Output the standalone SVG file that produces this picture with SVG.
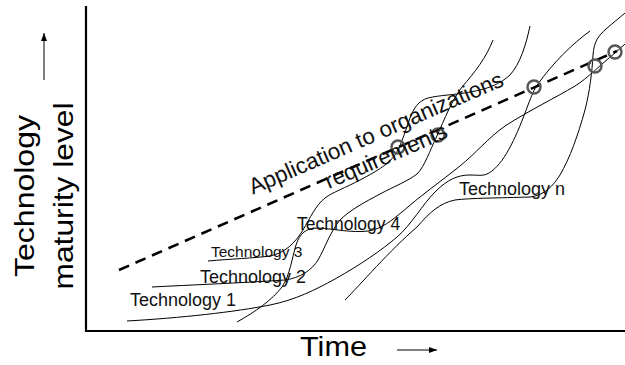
<svg xmlns="http://www.w3.org/2000/svg" width="625" height="365" viewBox="0 0 625 365">
<style>
.axis{stroke:#000;stroke-width:2.2;fill:none}
.curve{stroke:#000;stroke-width:1;fill:none}
.dash{stroke:#000;stroke-width:2.6;fill:none;stroke-dasharray:11 7}
.ring{stroke:#555;stroke-width:2.4;fill:none}
.big{font-family:"Liberation Sans",Arial,sans-serif;font-size:28px;fill:#000}
.lbl{font-family:"Liberation Sans",Arial,sans-serif;font-size:18px;fill:#111}
.app{font-family:"Liberation Sans",Arial,sans-serif;font-size:22.5px;fill:#111}
</style>
<defs>
<marker id="ah" viewBox="0 0 8 6" refX="8" refY="3" markerWidth="8" markerHeight="6" markerUnits="userSpaceOnUse" orient="auto">
<path d="M0,0 L8,3 L0,6 z" fill="#000"/>
</marker>
</defs>
<g id="axes">
<path class="axis" d="M86,6 L86,331 L625,331"/>
</g>
<g id="y-label">
<text class="big" transform="translate(34,196) rotate(-90)" text-anchor="middle" textLength="162" lengthAdjust="spacingAndGlyphs">Technology</text>
<text class="big" transform="translate(73,196) rotate(-90)" text-anchor="middle" textLength="187" lengthAdjust="spacingAndGlyphs">maturity level</text>
<line x1="44" y1="80" x2="44" y2="33" stroke="#000" stroke-width="1" marker-end="url(#ah)"/>
</g>
<g id="x-label">
<text class="big" x="300" y="356" textLength="67" lengthAdjust="spacingAndGlyphs">Time</text>
<line x1="397" y1="350" x2="437" y2="350" stroke="#000" stroke-width="1" marker-end="url(#ah)"/>
</g>
<g id="connectors">
<path id="tech1" class="curve" d="M127,321 C180,318 235,312 270,305 C295,300 315,290 335,279 C360,265 382,250 397,237 C412,224 422,205 435,192 C448,179 458,175 470,175 C480,175 484,177 492,171 C506,160 517,135 528,105 C532,95 534,89 538,84 C552,64 572,44 590,31"/>
<path id="tech2" class="curve" d="M152,287 C190,285 240,283 285,280 C300,278 312,270 318,260 C325,248 330,232 340,220 C350,210 365,202 380,194 C395,186 408,181 417,174 C425,166 430,150 436,138 C445,118 452,100 462,87 C475,72 486,58 493,40"/>
<path id="tech3" class="curve" d="M208,261 C230,259 255,258 270,256 C285,253 295,243 303,230 C310,218 316,205 325,198 C333,192 345,188 360,180 C375,172 388,165 395,155 C400,148 404,135 410,118 C414,108 418,101 428,98 C440,95 455,95 470,92 C488,89 500,84 510,75 C520,64 526,45 530,26"/>
<path id="tech4" class="curve" d="M237,322 C255,312 272,300 282,287 C290,275 292,258 296,245 C300,233 306,228 318,228 C335,229 352,233 368,231 C382,229 392,220 402,212 C420,196 440,182 460,166 C475,154 488,138 505,126 C530,110 555,98 575,86 C588,78 600,65 615,53 L625,44"/>
<path id="techn" class="curve" d="M345,300 C360,285 390,250 417,227 C430,212 440,203 455,200 C470,198 500,198 530,197 C545,195 553,186 560,175 C570,158 578,135 585,110 C590,90 592,72 593,55 C594,42 598,36 606,29 C613,23 619,18 625,13"/>
<path id="requirement-line" class="dash" d="M119,270 L617,51"/>
</g>
<g id="intersections">
<circle class="ring" cx="398" cy="147" r="6.5"/>
<circle class="ring" cx="438" cy="135" r="6.5"/>
<circle class="ring" cx="534" cy="87" r="6.5"/>
<circle class="ring" cx="595" cy="66" r="6.5"/>
<circle class="ring" cx="615" cy="52" r="6.5"/>
</g>
<g id="app-label">
<g transform="translate(379,140) rotate(-23.5)">
<text class="app" x="0" y="0" text-anchor="middle">Application to organizations</text>
<text class="app" x="0" y="25" text-anchor="middle">requirements</text>
</g>
</g>
<g id="node-tech1"><text class="lbl" x="130" y="306">Technology 1</text></g>
<g id="node-tech2"><text class="lbl" x="200" y="283">Technology 2</text></g>
<g id="node-tech3"><text class="lbl" x="211" y="257" style="font-size:15.5px">Technology 3</text></g>
<g id="node-tech4"><text class="lbl" x="297" y="230" style="font-size:17.5px">Technology 4</text></g>
<g id="node-techn"><text class="lbl" x="459" y="195">Technology n</text></g>
</svg>
